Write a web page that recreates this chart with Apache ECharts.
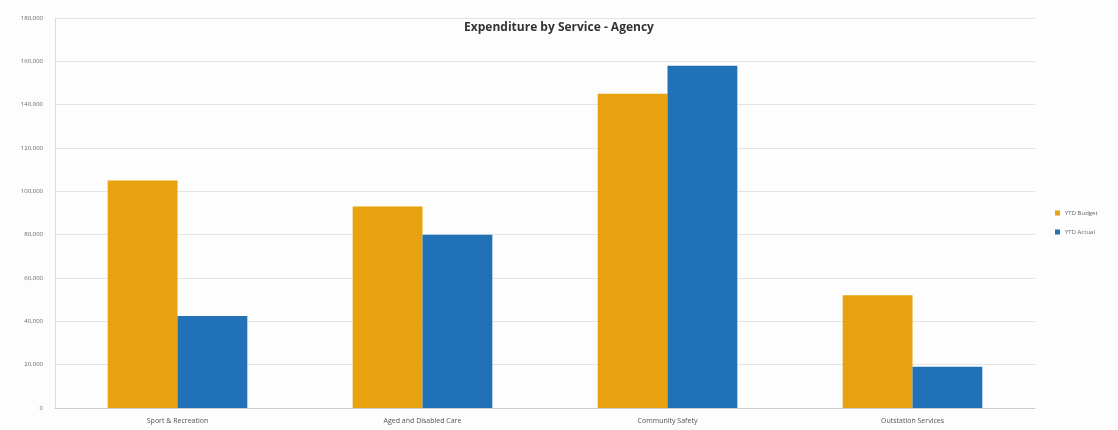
<!DOCTYPE html>
<html><head><meta charset="utf-8">
<script src="https://cdn.jsdelivr.net/npm/echarts@6/dist/echarts.min.js"></script>
<style>html,body{margin:0;padding:0;background:#fff}#c{width:1118px;height:430px}</style>
</head><body><div id="c"></div>
<script>
const categories = ["Sport & Recreation", "Aged and Disabled Care", "Community Safety", "Outstation Services"];
const ytdBudget = [105000, 93000, 145000, 52000];
const ytdActual = [42500, 80000, 158000, 19000];
const seriesNames = ["YTD Budget", "YTD Actual"];

const chart = echarts.init(document.getElementById('c'));
chart.setOption({
  backgroundColor: '#fdfdfd',
  animation: false,
  title: {
    text: 'Expenditure by Service - Agency',
    left: 'center', top: 17,
    textStyle: { fontFamily: 'Open Sans', fontSize: 12, fontWeight: 'bold', color: '#333' }
  },
  legend: {
    orient: 'vertical', left: 1050, top: 205, itemWidth: 5, itemHeight: 5, itemGap: 13,
    icon: 'rect',
    textStyle: { fontSize: 6, color: '#666', fontFamily: 'Open Sans' },
    data: seriesNames
  },
  grid: { left: 55, right: 83, top: 18, bottom: 22, containLabel: false },
  xAxis: {
    type: 'category', data: categories,
    axisLine: { lineStyle: { color: '#ccc' } },
    axisTick: { show: false },
    axisLabel: { fontSize: 7, color: '#555', margin: 9, fontFamily: 'Open Sans' }
  },
  yAxis: {
    type: 'value', min: 0, max: 180000, interval: 20000,
    axisLine: { show: true, lineStyle: { color: '#ddd' } },
    splitLine: { lineStyle: { color: '#e4e4e4' } },
    axisLabel: { fontSize: 6, color: '#666', margin: 12, fontFamily: 'Open Sans',
      formatter: v => v.toLocaleString('en-US') }
  },
  series: [
    { name: seriesNames[0], type: 'bar', data: ytdBudget, barGap: '0%', barCategoryGap: '43%',
      itemStyle: { color: '#E8A10F' } },
    { name: seriesNames[1], type: 'bar', data: ytdActual,
      itemStyle: { color: '#2171B7' } }
  ]
});
</script></body></html>
